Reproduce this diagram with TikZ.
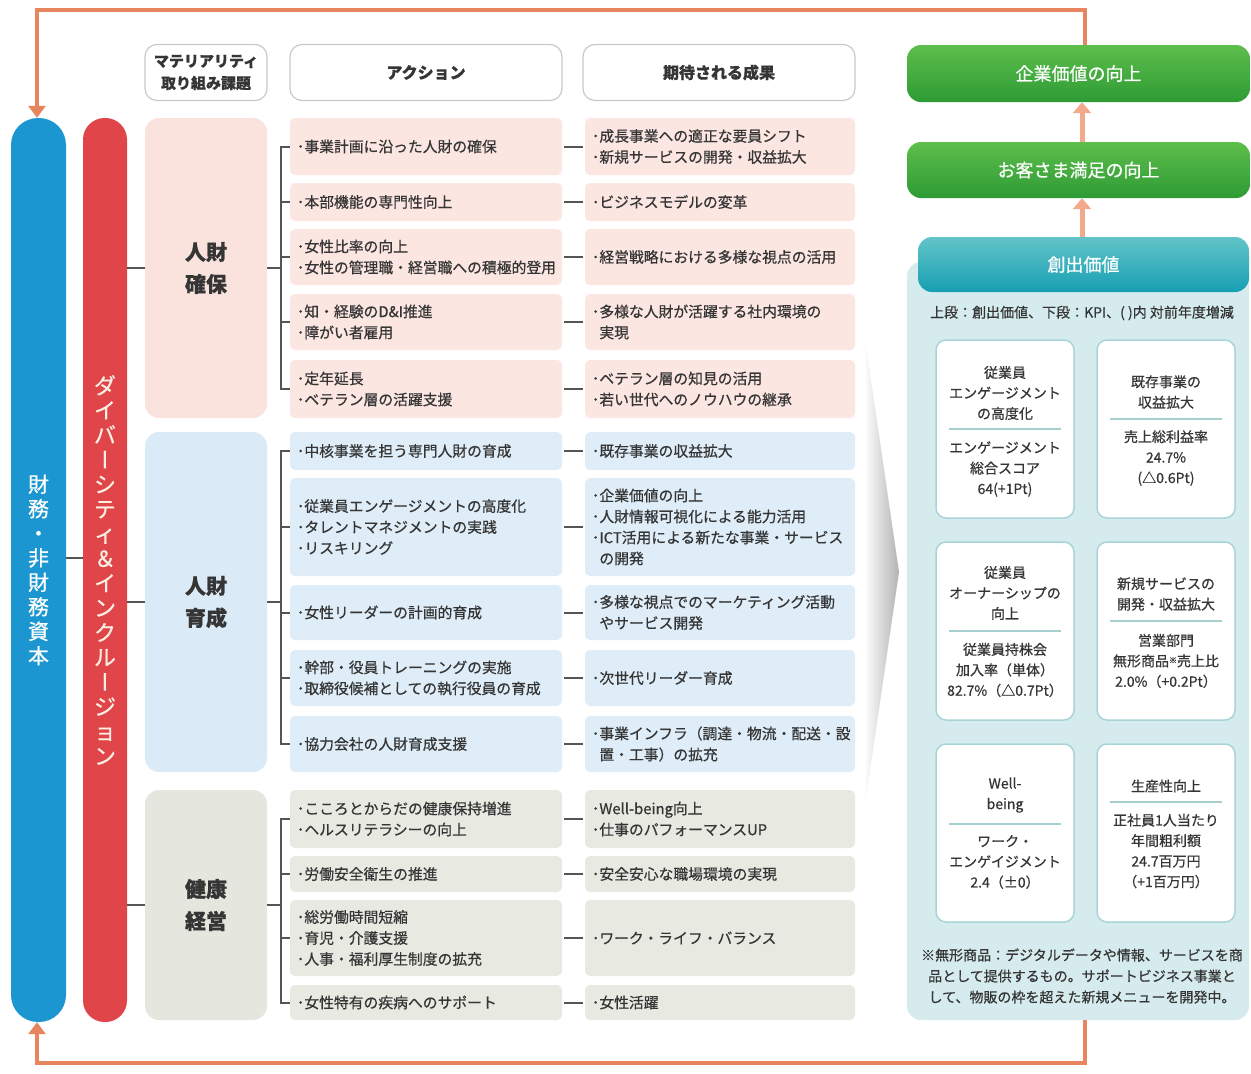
\documentclass[tikz,border=0pt]{standalone}
\usepackage{graphicx}
\usepackage{fontspec}
\setmainfont{Noto Sans CJK JP}[FakeBold=0.6]
\usetikzlibrary{arrows.meta,shadings}
\definecolor{txt}{HTML}{353535}
\definecolor{pinkc}{HTML}{FCE6E1}
\definecolor{pinkcat}{HTML}{FBE3DD}
\definecolor{bluec}{HTML}{DEEDF8}
\definecolor{bluecat}{HTML}{DAEAF6}
\definecolor{greyc}{HTML}{E8EAE2}
\definecolor{greycat}{HTML}{E5E7DE}
\definecolor{finblue}{HTML}{1B96D1}
\definecolor{dired}{HTML}{E04649}
\definecolor{diredtxt}{HTML}{FCEFE3}
\definecolor{loopc}{HTML}{E6855E}
\definecolor{arrowc}{HTML}{F2A98C}
\definecolor{panelc}{HTML}{D6EBEE}
\definecolor{cardb}{HTML}{A9D4D7}
\definecolor{divc}{HTML}{A6CFD0}
\definecolor{greentop}{HTML}{5DBE4B}
\definecolor{greenbot}{HTML}{2E9B35}
\definecolor{tealtop}{HTML}{62C4C8}
\definecolor{tealbot}{HTML}{169FB3}
\definecolor{brkc}{HTML}{555555}
\definecolor{hdrb}{HTML}{C9C9C9}
\newcommand\fsz[2]{\fontsize{#1}{#2}\selectfont}
\newcommand\cind{\hspace*{7.4pt}}
\newcommand\chonpu{\rotatebox[origin=c]{90}{\rule[-0.12em]{0pt}{1em}ー}}
\newcommand\mkrow[6]{%
  \node[cell,fill=#4,minimum height={#3-#2}] (#1-a) at (426,{(#2+#3)/2}) {#5};
  \node[cell,fill=#4,text width=256pt,minimum height={#3-#2}] (#1-r) at (720,{(#2+#3)/2}) {#6};
  \draw[brk,shorten <=2pt,shorten >=2pt] (#1-a.east) -- (#1-r.west);
}
\newcommand\mkcard[8]{%
  \node[card] (#1) at ({#2+69},{#3+89}) {};
  \node[cardtxt] (#1-t) at ({#2+69},#4) {#5};
  \draw[divl] ({#2+13},#6) -- ({#2+125},#6);
  \node[cardtxt] (#1-b) at ({#2+69},#7) {#8};
}
\begin{document}
\begin{tikzpicture}[x=1pt,y=-1pt,
  cell/.style={rounded corners=5pt, inner xsep=7pt, inner ysep=0pt, text width=258pt, align=left, font=\fsz{14.8}{21}, text=txt},
  cat/.style={rounded corners=14pt, minimum width=122pt, inner sep=0pt, align=center, font=\bfseries\fsz{21}{32}, text=txt},
  hdr/.style={draw=hdrb, line width=1.2pt, fill=white, rounded corners=12pt, minimum height=56pt, align=center, font=\bfseries\fsz{16}{22}, text=txt, inner sep=0pt},
  brk/.style={draw=brkc, line width=2pt},
  gbox/.style={rounded corners=14pt, top color=greentop, bottom color=greenbot, text=white, font=\fsz{18}{20}, minimum width=343pt, inner sep=0pt},
  uparr/.style={draw=arrowc, line width=5pt, -{Triangle[width=18pt,length=11pt]}},
  loopline/.style={draw=loopc, line width=4pt, -{Triangle[width=17pt,length=12pt]}},
  card/.style={rounded corners=10pt, fill=white, draw=cardb, line width=1.5pt, minimum width=138pt, minimum height=178pt, inner sep=0pt},
  cardtxt/.style={align=center, inner sep=0pt, font=\fsz{14}{20.5}, text=txt},
  divl/.style={draw=divc, line width=1.2pt}
]
\useasboundingbox (0,0) rectangle (1251,1074);
\fill[white] (0,0) rectangle (1251,1074);

% left bars
\node[fill=finblue, rounded corners=27pt, minimum width=55pt, minimum height=904pt, inner sep=0pt, text=white, align=center, font=\fsz{21}{24.5}] (fin) at (38.5,570) {財\\務\\・\\非\\財\\務\\資\\本};
\node[fill=dired, rounded corners=21.5pt, minimum width=44pt, minimum height=904pt, inner sep=0pt, text=diredtxt, align=center, font=\fsz{22}{24.7}] (dir) at (105,570) {ダ\\イ\\バ\\\chonpu\\シ\\テ\\ィ\\＆\\イ\\ン\\ク\\ル\\\chonpu\\ジ\\ョ\\ン};
\coordinate (ft) at (75,558);
\draw[brk] (ft -| fin.east) -- (ft -| dir.west);

% headers
\node[hdr, minimum width=122pt, font=\bfseries\fsz{15}{22}] (h1) at (206,72.5) {マテリアリティ\\取り組み課題};
\node[hdr, minimum width=272pt] (h2) at (426,72.5) {アクション};
\node[hdr, minimum width=272pt] (h3) at (719,72.5) {期待される成果};

% categories
\node[cat, fill=pinkcat, minimum height=300pt] (cat1) at (206,268) {人財\\確保};
\node[cat, fill=bluecat, minimum height=340pt] (cat2) at (206,602) {人財\\育成};
\node[cat, fill=greycat, minimum height=230pt] (cat3) at (206,905) {健康\\経営};
\draw[brk] (cat1.west -| dir.east) -- (cat1.west);
\draw[brk] (cat2.west -| dir.east) -- (cat2.west);
\draw[brk] (cat3.west -| dir.east) -- (cat3.west);

% group 1
\mkrow{k1}{118}{175}{pinkc}{･事業計画に沿った人財の確保}{･成長事業への適正な要員シフト\\･新規サービスの開発・収益拡大}
\mkrow{k2}{183}{221}{pinkc}{･本部機能の専門性向上}{･ビジネスモデルの変革}
\mkrow{k3}{229}{285}{pinkc}{･女性比率の向上\\･女性の管理職・経営職への積極的登用}{･経営戦略における多様な視点の活用}
\mkrow{k4}{294}{350}{pinkc}{･知・経験のD\&I推進\\･障がい者雇用}{･多様な人財が活躍する社内環境の\\\cind 実現}
\mkrow{k5}{360}{418}{pinkc}{･定年延長\\･ベテラン層の活躍支援}{･ベテラン層の知見の活用\\･若い世代へのノウハウの継承}
\draw[brk] (k1-a.west) -- ++(-9,0) |- (k5-a.west);
\draw[brk] (k2-a.west) -- ++(-9,0);
\draw[brk] (k3-a.west) -- ++(-9,0);
\draw[brk] (k4-a.west) -- ++(-9,0);
\coordinate (sp1) at (281,268);
\draw[brk] (cat1.east) -- (sp1);

% group 2
\mkrow{u1}{432}{470}{bluec}{･中核事業を担う専門人財の育成}{･既存事業の収益拡大}
\mkrow{u2}{478}{576}{bluec}{･従業員エンゲージメントの高度化\\･タレントマネジメントの実践\\･リスキリング}{･企業価値の向上\\･人財情報可視化による能力活用\\･ICT活用による新たな事業・サービス\\\cind の開発}
\mkrow{u3}{585}{640}{bluec}{･女性リーダーの計画的育成}{･多様な視点でのマーケティング活動\\\cind やサービス開発}
\mkrow{u4}{650}{706}{bluec}{･幹部・役員トレーニングの実施\\･取締役候補としての執行役員の育成}{･次世代リーダー育成}
\mkrow{u5}{716}{772}{bluec}{･協力会社の人財育成支援}{･事業インフラ（調達・物流・配送・設\\\cind 置・工事）の拡充}
\draw[brk] (u1-a.west) -- ++(-9,0) |- (u5-a.west);
\draw[brk] (u2-a.west) -- ++(-9,0);
\draw[brk] (u3-a.west) -- ++(-9,0);
\draw[brk] (u4-a.west) -- ++(-9,0);
\coordinate (sp2) at (281,602);
\draw[brk] (cat2.east) -- (sp2);

% group 3
\mkrow{w1}{790}{848}{greyc}{･こころとからだの健康保持増進\\･ヘルスリテラシーの向上}{･Well-being向上\\･仕事のパフォーマンスUP}
\mkrow{w2}{856}{892}{greyc}{･労働安全衛生の推進}{･安全安心な職場環境の実現}
\mkrow{w3}{900}{976}{greyc}{･総労働時間短縮\\･育児・介護支援\\･人事・福利厚生制度の拡充}{･ワーク・ライフ・バランス}
\mkrow{w4}{985}{1020}{greyc}{･女性特有の疾病へのサポート}{･女性活躍}
\draw[brk] (w1-a.west) -- ++(-9,0) |- (w4-a.west);
\draw[brk] (w2-a.west) -- ++(-9,0);
\draw[brk] (w3-a.west) -- ++(-9,0);
\coordinate (sp3) at (281,905);
\draw[brk] (cat3.east) -- (sp3);

% chevron
\shade[left color=white, right color=gray!60] (864,332) -- (899,572) -- (864,812) -- cycle;

% right panel
\node[fill=panelc, rounded corners=14pt, minimum width=342pt, minimum height=758pt, inner sep=0pt] (pnl) at (1078,641) {};
\node[rounded corners=14pt, top color=tealtop, bottom color=tealbot, text=white, font=\fsz{18}{20}, minimum width=331pt, minimum height=55pt, inner sep=0pt] (tv) at (1083.5,264.5) {創出価値};
\node[gbox, minimum height=57pt] (g1) at (1078.5,73.5) {企業価値の向上};
\node[gbox, minimum height=56pt] (g2) at (1078.5,170) {お客さま満足の向上};
\coordinate (ax) at (1082,0);
\draw[uparr] (g2.north -| ax) -- (g1.south -| ax);
\draw[uparr] (tv.north -| ax) -- (g2.south -| ax);

\node[font=\fsz{14}{16}, text=txt, inner sep=0pt] (leg) at (1082,313) {上段：創出価値、下段：KPI、( )内 対前年度増減};

\mkcard{c1}{936}{340}{393}{従業員\\エンゲージメント\\の高度化}{429}{469}{エンゲージメント\\総合スコア\\64(+1Pt)}
\mkcard{c2}{1097}{340}{392}{既存事業の\\収益拡大}{419}{458}{売上総利益率\\24.7\%\\(△0.6Pt)}
\mkcard{c3}{936}{542}{593}{従業員\\オーナーシップの\\向上}{631}{670}{従業員持株会\\加入率（単体）\\82.7\%（△0.7Pt）}
\mkcard{c4}{1097}{542}{594}{新規サービスの\\開発・収益拡大}{621}{661}{営業部門\\無形商品\raisebox{3pt}{\fsz{8}{8}※}売上比\\2.0\%（+0.2Pt）}
\mkcard{c5}{936}{744}{795}{Well-\\being}{824}{862}{ワーク・\\エンゲイジメント\\2.4（±0）}
\mkcard{c6}{1097}{744}{786}{生産性向上}{802}{851}{正社員1人当たり\\年間粗利額\\24.7百万円\\（+1百万円）}

\node[font=\fsz{14}{21}, text=txt, align=center, inner sep=0pt] (fn) at (1082,976) {※無形商品：デジタルデータや情報、サービスを商\\品として提供するもの。サポートビジネス事業と\\して、物販の枠を超えた新規メニューを開発中。};

% feedback loop
\coordinate (tr) at (1085,10);
\coordinate (tl) at (37,10);
\coordinate (br) at (1085,1063);
\coordinate (bl) at (37,1063);
\draw[loopline] (g1.north -| tr) -- (tr) -- (tl) -- (fin.north -| tl);
\draw[loopline] (pnl.south -| br) -- (br) -- (bl) -- (fin.south -| bl);
\end{tikzpicture}
\end{document}
